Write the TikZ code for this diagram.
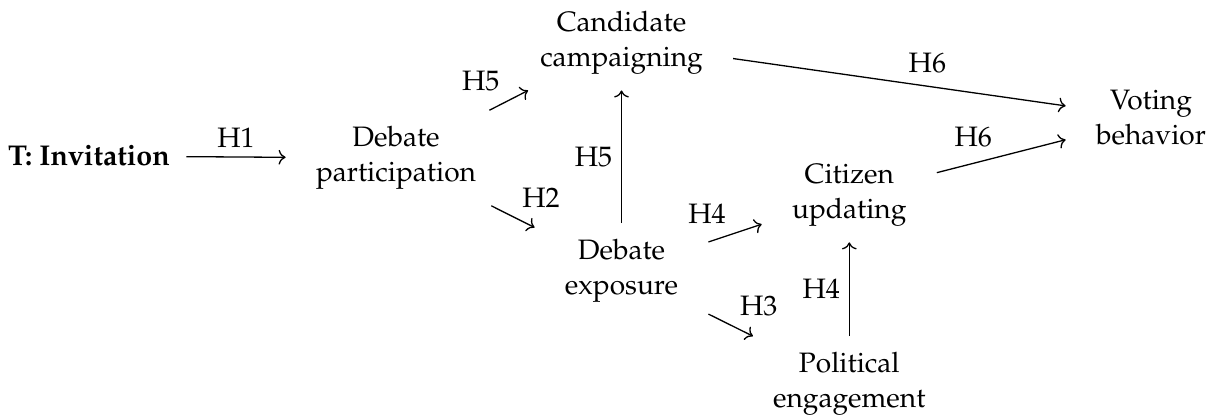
\documentclass[tikz,border=0pt]{standalone}
\usepackage[T1]{fontenc}
\usepackage{mathpazo}
\usepackage{tikz}
\usetikzlibrary{arrows.meta}
\tikzset{
  cell/.style      = {align=center, inner xsep=11.5pt, inner ysep=6.0pt,
                      font=\fontsize{10.8pt}{13.5pt}\selectfont},
  treat/.style     = {inner xsep=6.2pt, inner ysep=3pt,
                      font=\fontsize{11pt}{13.5pt}\selectfont\bfseries},
  link/.style      = {->, line width=0.5pt},
  hyp/.style       = {auto, font=\fontsize{10.8pt}{13.5pt}\selectfont},
}

\begin{document}
\begin{tikzpicture}
  \useasboundingbox (0,0) rectangle (16.464,5.650);

  % ---- the seven variables -----------------------------------------------
  \node[treat] (invite)    at (1.203,3.541)  {T: Invitation};
  \node[cell]  (particip)  at (5.353,3.514)  {Debate\\participation};
  \node[cell]  (campaign)  at (8.401,5.073)  {Candidate\\campaigning};
  \node[cell]  (expose)    at (8.401,1.987)  {Debate\\exposure};
  \node[cell]  (citizen)   at (11.480,3.014) {Citizen\\updating};
  \node[cell]  (political) at (11.480,0.460) {Political\\engagement};
  \node[cell]  (voting)    at (15.558,4.055) {Voting\\behavior};

  % ---- hypothesised paths ------------------------------------------------
  \draw[link] (invite)    -- node[hyp] {H1} (particip);
  \draw[link] (particip)  -- node[hyp] {H5} (campaign);
  \draw[link] (particip)  -- node[hyp] {H2} (expose);
  \draw[link] (expose)    -- node[hyp] {H5} (campaign);
  \draw[link] (expose)    -- node[hyp] {H4} (citizen);
  \draw[link] (expose)    -- node[hyp] {H3} (political);
  \draw[link] (political) -- node[hyp] {H4} (citizen);
  \draw[link] (campaign)  -- node[hyp] {H6} (voting);
  \draw[link] (citizen)   -- node[hyp] {H6} (voting);
\end{tikzpicture}
\end{document}
